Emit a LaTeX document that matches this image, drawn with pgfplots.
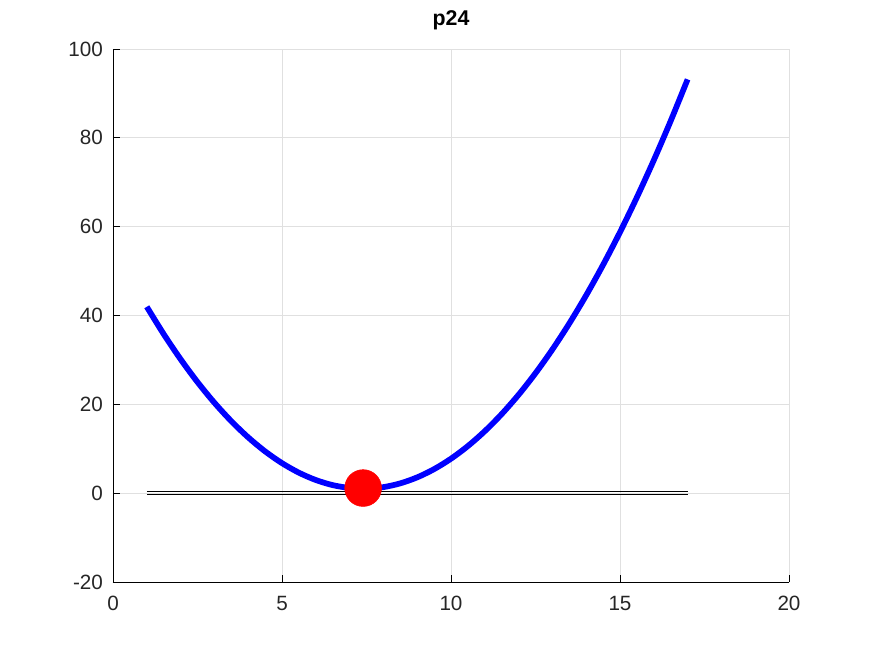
\documentclass[border=0pt]{standalone}
\usepackage{pgfplots}
\pgfplotsset{compat=1.18}
\usepackage{fontspec}
\setmainfont{Liberation Sans}
\definecolor{ticklab}{HTML}{262626}
\definecolor{gridc}{HTML}{E0E0E0}
\begin{document}
\begin{tikzpicture}
\useasboundingbox (-84.75pt,-54pt) rectangle (569.25pt,436.5pt);
\begin{axis}[
  scale only axis,
  width=507pt, height=399.75pt,
  xmin=0, xmax=20, ymin=-20, ymax=100,
  xtick={0,5,...,20}, ytick={-20,0,...,100},
  axis x line=bottom, axis y line=left,
  axis line style={black, line width=0.6pt, -},
  grid=major,
  major grid style={gridc, line width=0.6pt},
  tick align=inside,
  major tick length=5pt,
  tick style={black, line width=0.6pt},
  /pgf/number format/assume math mode=true,
  ticklabel style={font=\fontsize{15.5}{18}\selectfont, text=ticklab},
  xticklabel style={yshift=-7pt},
  yticklabel style={xshift=-4pt},
  title={\bfseries p24},
  title style={font=\fontsize{16}{19}\selectfont, yshift=5pt},
  clip=false,
]
\addplot[black, line width=0.75pt] coordinates {(1,0.28) (17,0.28)};
\addplot[black, line width=0.75pt] coordinates {(1,-0.28) (17,-0.28)};
\addplot[blue, line width=4.3pt, smooth] coordinates {
(1,41.96) (1.5,35.81) (2,30.16) (2.5,25.01) (3,20.36) (3.5,16.21) (4,12.56) (4.5,9.41)
(5,6.76) (5.5,4.61) (6,2.96) (6.5,1.81) (7,1.16) (7.4,1) (7.5,1.01) (8,1.36) (8.5,2.21)
(9,3.56) (9.5,5.41) (10,7.76) (10.5,10.61) (11,13.96) (11.5,17.81) (12,22.16)
(12.5,27.01) (13,32.36) (13.5,38.21) (14,44.56) (14.5,51.41) (15,58.76) (15.5,66.61)
(16,74.96) (16.5,83.81) (17,93.16)};
\addplot[only marks, mark=*, mark size=13.8pt, red, mark options={draw=red, fill=red}] coordinates {(7.4,1.15)};
\end{axis}
\end{tikzpicture}
\end{document}
